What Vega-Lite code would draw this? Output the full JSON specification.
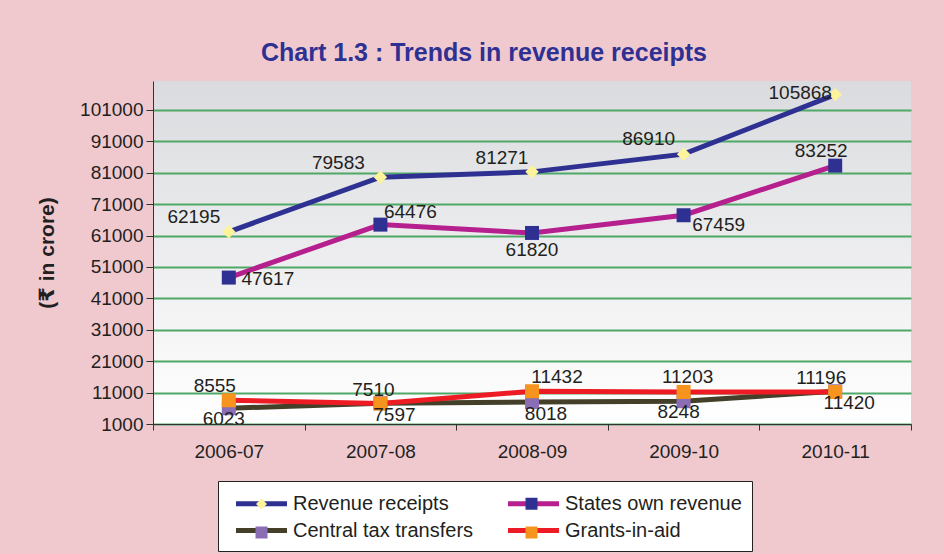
{
  "$schema": "https://vega.github.io/schema/vega-lite/v6.json",
  "width": 758,
  "height": 343,
  "autosize": {"type": "none"},
  "padding": {"left": 153, "top": 81, "right": 33, "bottom": 130},
  "background": "#F0C9CF",
  "title": {
    "text": "Chart 1.3 : Trends in revenue receipts",
    "font": "Liberation Sans",
    "fontSize": 25,
    "fontWeight": "bold",
    "color": "#2E3192",
    "anchor": "middle",
    "dx": -48,
    "offset": 15
  },
  "data": {
    "values": [
      {"year": "2006-07", "series": "Revenue receipts", "value": 62195},
      {"year": "2007-08", "series": "Revenue receipts", "value": 79583},
      {"year": "2008-09", "series": "Revenue receipts", "value": 81271},
      {"year": "2009-10", "series": "Revenue receipts", "value": 86910},
      {"year": "2010-11", "series": "Revenue receipts", "value": 105868},
      {"year": "2006-07", "series": "States own revenue", "value": 47617},
      {"year": "2007-08", "series": "States own revenue", "value": 64476},
      {"year": "2008-09", "series": "States own revenue", "value": 61820},
      {"year": "2009-10", "series": "States own revenue", "value": 67459},
      {"year": "2010-11", "series": "States own revenue", "value": 83252},
      {"year": "2006-07", "series": "Central tax transfers", "value": 6023},
      {"year": "2007-08", "series": "Central tax transfers", "value": 7597},
      {"year": "2008-09", "series": "Central tax transfers", "value": 8018},
      {"year": "2009-10", "series": "Central tax transfers", "value": 8248},
      {"year": "2010-11", "series": "Central tax transfers", "value": 11420},
      {"year": "2006-07", "series": "Grants-in-aid", "value": 8555},
      {"year": "2007-08", "series": "Grants-in-aid", "value": 7510},
      {"year": "2008-09", "series": "Grants-in-aid", "value": 11432},
      {"year": "2009-10", "series": "Grants-in-aid", "value": 11203},
      {"year": "2010-11", "series": "Grants-in-aid", "value": 11196}
    ]
  },
  "encoding": {
    "x": {
      "field": "year",
      "type": "ordinal",
      "bandPosition": 0.5,
      "scale": {"type": "band", "paddingInner": 0, "paddingOuter": 0},
      "axis": {
        "title": null,
        "labelAngle": 0,
        "labelFont": "Liberation Sans",
        "labelFontSize": 19,
        "labelColor": "#231F20",
        "labelPadding": 12,
        "tickSize": 6,
        "tickBand": "extent",
        "tickColor": "#333333",
        "domainColor": "#333333",
        "grid": false,
        "zindex": 1
      }
    },
    "y": {
      "field": "value",
      "type": "quantitative",
      "scale": {"domain": [1000, 110200], "nice": false, "zero": false},
      "axis": {
        "values": [1000, 11000, 21000, 31000, 41000, 51000, 61000, 71000, 81000, 91000, 101000],
        "format": "d",
        "title": "(₹ in crore)",
        "titleFont": "Liberation Sans, DejaVu Sans, Noto Sans",
        "titleFontSize": 21,
        "titleFontWeight": "bold",
        "titleColor": "#231F20",
        "titlePadding": 22,
        "labelFont": "Liberation Sans",
        "labelFontSize": 19,
        "labelColor": "#231F20",
        "labelPadding": 3,
        "tickSize": 7,
        "tickColor": "#333333",
        "domainColor": "#333333",
        "grid": true,
        "gridColor": "#4FA866",
        "gridWidth": 2
      }
    }
  },
  "layer": [
    {
      "mark": {"type": "line", "strokeWidth": 5},
      "encoding": {
        "stroke": {
          "field": "series",
          "type": "nominal",
          "scale": {
            "domain": ["Revenue receipts", "States own revenue", "Central tax transfers", "Grants-in-aid"],
            "range": ["#2E3192", "#B5208E", "#433F29", "#ED1C24"]
          },
          "legend": {
            "title": null,
            "orient": "none",
            "direction": "horizontal",
            "legendX": 65,
            "legendY": 400,
            "columns": 2,
            "columnPadding": 24,
            "rowPadding": 4,
            "padding": 10,
            "symbolType": "M-0.45,0H4.65",
            "symbolSize": 400,
            "symbolStrokeWidth": 5,
            "labelOffset": 40,
            "labelLimit": 400,
            "labelFont": "Liberation Sans",
            "labelFontSize": 20,
            "labelColor": "#231F20",
            "fillColor": "#FFFFFF",
            "strokeColor": "#222222",
            "zindex": 1
          }
        }
      }
    },
    {
      "mark": {"type": "point", "filled": true, "size": 3400, "strokeWidth": 0, "opacity": 1},
      "encoding": {
        "fill": {
          "field": "series",
          "type": "nominal",
          "sort": ["Revenue receipts", "States own revenue", "Central tax transfers", "Grants-in-aid"],
          "scale": {"range": ["#FDF39B", "#2E3192", "#8A6DB4", "#F7941D"]},
          "legend": {
            "title": null,
            "orient": "none",
            "direction": "horizontal",
            "legendX": 65,
            "legendY": 400,
            "columns": 2,
            "columnPadding": 24,
            "rowPadding": -11,
            "padding": 10,
            "symbolType": {"expr": "datum.value === 'Revenue receipts' ? 'M2.1,-0.55L2.65,0L2.1,0.55L1.55,0Z' : 'M1.5,-0.6H2.7V0.6H1.5Z'"},
            "symbolSize": 400,
            "symbolStrokeWidth": 5,
            "symbolStrokeColor": "transparent",
            "labelOffset": 40,
            "labelLimit": 400,
            "labelFont": "Liberation Sans",
            "labelFontSize": 20,
            "labelOpacity": 0,
            "fillColor": "transparent",
            "strokeColor": "transparent",
            "zindex": 2
          }
        },
        "shape": {
          "field": "series",
          "type": "nominal",
          "sort": ["Revenue receipts", "States own revenue", "Central tax transfers", "Grants-in-aid"],
          "scale": {
            "range": [
              "M0,-0.23L0.23,0L0,0.23L-0.23,0Z",
              "M-0.24,-0.24H0.24V0.24H-0.24Z",
              "M-0.24,-0.24H0.24V0.24H-0.24Z",
              "M-0.24,-0.24H0.24V0.24H-0.24Z"
            ]
          },
          "legend": null
        }
      }
    },
    {
      "transform": [{"filter": {"field": "value", "oneOf": [62195, 86910]}}],
      "mark": {"type": "text", "dx": -35, "dy": -15},
      "encoding": {"text": {"field": "value", "type": "quantitative", "format": "d"}}
    },
    {
      "transform": [{"filter": {"field": "value", "oneOf": [79583]}}],
      "mark": {"type": "text", "dx": -42, "dy": -14},
      "encoding": {"text": {"field": "value", "type": "quantitative", "format": "d"}}
    },
    {
      "transform": [{"filter": {"field": "value", "oneOf": [81271]}}],
      "mark": {"type": "text", "dx": -30, "dy": -14},
      "encoding": {"text": {"field": "value", "type": "quantitative", "format": "d"}}
    },
    {
      "transform": [{"filter": {"field": "value", "oneOf": [105868]}}],
      "mark": {"type": "text", "dx": -35, "dy": -2},
      "encoding": {"text": {"field": "value", "type": "quantitative", "format": "d"}}
    },
    {
      "transform": [{"filter": {"field": "value", "oneOf": [47617]}}],
      "mark": {"type": "text", "dx": 39, "dy": 1},
      "encoding": {"text": {"field": "value", "type": "quantitative", "format": "d"}}
    },
    {
      "transform": [{"filter": {"field": "value", "oneOf": [64476]}}],
      "mark": {"type": "text", "dx": 30, "dy": -13},
      "encoding": {"text": {"field": "value", "type": "quantitative", "format": "d"}}
    },
    {
      "transform": [{"filter": {"field": "value", "oneOf": [61820]}}],
      "mark": {"type": "text", "dx": 0, "dy": 17},
      "encoding": {"text": {"field": "value", "type": "quantitative", "format": "d"}}
    },
    {
      "transform": [{"filter": {"field": "value", "oneOf": [67459]}}],
      "mark": {"type": "text", "dx": 35, "dy": 10},
      "encoding": {"text": {"field": "value", "type": "quantitative", "format": "d"}}
    },
    {
      "transform": [{"filter": {"field": "value", "oneOf": [83252]}}],
      "mark": {"type": "text", "dx": -14, "dy": -15},
      "encoding": {"text": {"field": "value", "type": "quantitative", "format": "d"}}
    },
    {
      "transform": [{"filter": {"field": "value", "oneOf": [8555, 11196]}}],
      "mark": {"type": "text", "dx": -14, "dy": -14},
      "encoding": {"text": {"field": "value", "type": "quantitative", "format": "d"}}
    },
    {
      "transform": [{"filter": {"field": "value", "oneOf": [7510]}}],
      "mark": {"type": "text", "dx": -7, "dy": -14},
      "encoding": {"text": {"field": "value", "type": "quantitative", "format": "d"}}
    },
    {
      "transform": [{"filter": {"field": "value", "oneOf": [11432]}}],
      "mark": {"type": "text", "dx": 25, "dy": -14},
      "encoding": {"text": {"field": "value", "type": "quantitative", "format": "d"}}
    },
    {
      "transform": [{"filter": {"field": "value", "oneOf": [11203]}}],
      "mark": {"type": "text", "dx": 4, "dy": -15},
      "encoding": {"text": {"field": "value", "type": "quantitative", "format": "d"}}
    },
    {
      "transform": [{"filter": {"field": "value", "oneOf": [6023, 8248]}}],
      "mark": {"type": "text", "dx": -5, "dy": 11},
      "encoding": {"text": {"field": "value", "type": "quantitative", "format": "d"}}
    },
    {
      "transform": [{"filter": {"field": "value", "oneOf": [7597, 8018, 11420]}}],
      "mark": {"type": "text", "dx": 14, "dy": 12},
      "encoding": {"text": {"field": "value", "type": "quantitative", "format": "d"}}
    }
  ],
  "config": {
    "view": {
      "stroke": null,
      "fill": {
        "gradient": "linear",
        "x1": 0, "y1": 0, "x2": 0, "y2": 1,
        "stops": [
          {"offset": 0, "color": "#DADBDE"},
          {"offset": 1, "color": "#FFFFFF"}
        ]
      }
    },
    "text": {
      "font": "Liberation Sans",
      "fontSize": 19,
      "color": "#231F20",
      "align": "center",
      "baseline": "middle"
    }
  }
}
